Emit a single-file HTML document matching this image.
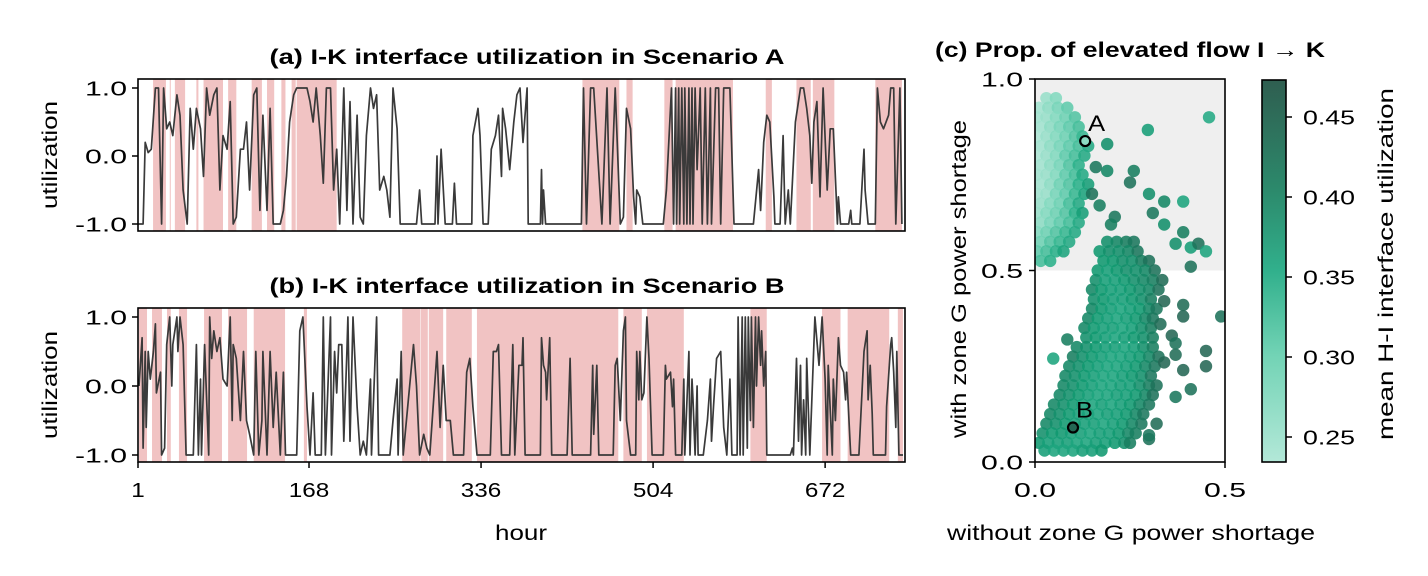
<!DOCTYPE html>
<html><head><meta charset="utf-8"><title>Utilization chart</title>
<style>
html,body{margin:0;padding:0;background:#fff;}
svg{display:block;font-family:"Liberation Sans",sans-serif;}
</style></head>
<body>
<svg id="chart" width="1428" height="576" viewBox="0 0 1428 576" xmlns="http://www.w3.org/2000/svg">
<defs>
<linearGradient id="cbgrad" x1="0" y1="1" x2="0" y2="0">
<stop offset="0" stop-color="#b3e8d8"/>
<stop offset="0.28" stop-color="#72d3b5"/>
<stop offset="0.50" stop-color="#31b08c"/>
<stop offset="0.71" stop-color="#2c8a6c"/>
<stop offset="1" stop-color="#2f5e50"/>
</linearGradient>
<clipPath id="clipA"><rect x="138" y="79" width="767" height="152"/></clipPath>
<clipPath id="clipB"><rect x="138" y="308" width="767" height="154"/></clipPath>
<clipPath id="clipC"><rect x="1035" y="79" width="190" height="383"/></clipPath>
</defs>
<g id="panelA"></g>
<g id="panelB"></g>
<g id="panelC"></g>
<g id="cbar"></g>
</svg>
<script>
const hoursA=[1,6,8,11,14,18,21,24,26,29,32,35,39,42,45,49,52,55,58,62,65,68,71,75,78,81,84,88,91,94,97,101,104,107,110,114,117,120,123,127,130,133,136,140,143,146,149,153,156,159,162,166,169,172,175,179,182,185,189,192,195,198,202,205,208,211,215,218,221,224,228,231,234,237,241,244,247,250,254,257,273,276,278,291,293,294,297,301,308,310,312,327,328,333,335,338,343,346,350,353,356,357,360,364,368,371,374,377,381,382,394,395,396,397,399,434,436,439,443,446,454,459,462,467,472,475,478,482,485,487,488,491,494,514,517,522,524,526,527,529,530,532,534,535,537,539,540,542,543,545,547,550,552,555,557,560,561,565,568,570,573,579,583,602,607,609,612,615,618,622,623,628,631,633,636,638,643,648,651,654,657,659,661,664,667,670,674,677,680,684,685,687,695,697,698,706,710,711,714,721,723,726,729,734,736,739,741,745,747];
const utilA=[-1,-1,0.2,0.05,0.1,1,1,-1,1,0.4,0.5,0.3,0.9,0.6,-0.5,-1,0.7,0.1,0.7,0.4,-0.3,1,0.6,0.9,1,-0.5,0.3,0.1,0.8,-1,-0.9,0.1,0.1,0.5,-0.5,0.9,1,-0.8,0.6,-0.8,0.7,-1,-1,-1,-0.8,-0.3,0.5,0.9,1,1,1,1,0.8,0.5,1,0.3,-0.4,1,1,-0.5,0.1,-1,1,-0.8,0.8,-1,0.6,-0.9,-1,0.3,1,0.7,0.9,-0.5,-0.3,-0.5,-0.9,1,0.4,-1,-1,-0.5,-1,-1,0,-1,0.1,-1,-1,-0.4,-1,-1,0.3,0.7,0.3,-1,-1,0.1,0.3,0.6,-0.3,0.7,0.4,-0.2,0.5,0.9,1,0.2,1,-1,-1,-0.2,-1,-0.5,-1,-1,1,-1,1,1,-1,1,-1,1,-1,-0.9,0.7,0.4,-0.6,-1,-0.5,-0.6,-1,-1,-0.5,1,-1,1,-1,1,-1,1,-1,1,-1,1,-1,1,-1,1,-0.2,1,-1,1,-1,1,-1,1,1,-1,1,1,-1,-1,-0.2,-0.8,0.2,0.6,0.5,-0.6,-1,-1,0.3,-1,-0.5,-1,0.5,1,1,0.7,0.3,-0.4,0.5,0.8,-0.6,1,-0.5,0.4,0.4,-1,-0.6,-1,-1,-0.8,-1,-1,0.1,-0.5,-1,-1,1,0.5,0.4,0.6,1,1,-1,1,-1];
const shadeStartA=[15.7,32,37,58,65,89,112,127,141,151,156,435,478,515,526,614,644,660,721];
const shadeEndA=[28.3,33,47,60,84,97,122,134,145,155,195,471,484,523,582,620,658,681,747];

const hoursB=[2,5,6,8,9,11,13,16,18,19,23,24,27,29,32,34,35,39,40,42,45,48,50,55,58,60,62,63,66,70,71,73,75,78,81,84,88,91,93,94,97,101,104,107,110,114,116,119,122,123,127,130,133,136,140,143,145,156,159,162,166,169,172,174,180,182,184,189,190,193,195,197,200,202,205,206,208,211,215,218,221,224,228,229,234,236,247,250,254,255,258,260,270,273,276,280,283,286,293,296,299,302,306,309,319,322,325,328,332,345,348,351,353,356,364,367,369,373,376,377,379,394,395,397,399,400,403,405,420,423,425,443,445,446,449,451,465,467,469,472,475,477,478,482,487,488,490,491,493,495,498,500,503,514,516,517,521,523,524,526,532,534,535,539,540,542,543,545,547,548,553,557,560,561,563,566,570,573,576,579,581,586,587,589,591,592,594,596,597,599,600,602,604,605,607,609,610,612,614,615,638,640,641,644,646,648,649,651,653,654,657,662,666,669,672,674,675,679,680,682,685,687,690,692,693,697,705,710,713,714,716,718,719,731,732,736,737,739,741,742,744,748];
const utilB=[0,0.7,-0.9,0.5,-0.6,0.5,0.1,0.5,0.9,-0.1,0.2,-1,-0.9,0.6,1,0,0.6,1,0.5,1,0.6,-1,-1,-1,0.6,-1,0.1,-1,0.6,-1,1,0.4,0.8,0.5,0.7,0.1,0,1,-0.5,0.6,0.4,-0.5,0.5,-0.5,-0.7,-1,0.5,-1,-0.5,0.5,-1,0.5,-0.6,0.2,-1,0.2,-1,-1,0.8,1,-0.3,-1,-0.1,-1,-1,1,-1,1,-1,0.5,-0.1,0.6,0.6,-0.8,0.5,1,-0.8,1,-0.3,-1,-0.8,-1,0.1,-1,1,-1,-1,-0.5,0.1,-1,0.5,-1,0.6,0,-1,-0.7,-0.9,-1,0.5,-0.6,0.3,-0.5,-0.5,-1,-1,0.2,0.4,-0.3,-1,-1,0.5,0.5,0.6,-1,-1,0.6,-1,0.3,0.3,0.7,-1,-1,0.7,0.3,0.2,-0.2,0.7,-1,-1,0.4,-1,-1,0.3,-0.7,0.3,-1,-1,0.3,0.4,-0.5,0.8,1,-0.5,-1,-1,0.5,-0.2,0.5,-0.2,-0.1,1,0.4,-1,-1,0.3,0.1,0.2,-0.3,0.1,-1,-1,0.1,-1,0.5,-1,0.1,-0.2,-1,0,-1,-1,-0.5,0.1,-0.8,-0.3,0.4,0.5,-0.6,-1,0.1,-1,-1,1,-1,1,-1,1,-0.9,1,-0.5,1,-0.6,1,0,1,0.3,0.8,0,0.5,-1,-1,-0.9,-1,0.4,-0.8,0.3,-1,-0.2,-1,0.4,-1,1,0.3,1,0.1,-1,0.3,-1,0.1,-0.5,0.7,0.3,0.2,-0.2,0.2,-1,-1,0.5,0.8,-0.2,0.3,-0.4,-1,-1,-0.3,0.6,0.7,0.2,-0.6,0.5,-1,-1];
const shadeStartB=[2,14.7,29.3,41,65.5,89,114,163,259,277,285,302,332,475,498,599,669,694,743];
const shadeEndB=[9.8,24.4,33,48.9,83,107.5,144.6,166,276.5,284,299,327,470,493,534,615,687,734.6,748];

const xTickValsTS=[1,168,336,504,672];
const yTickValsTS=[-1,0,1];
const yTickLabelsTS=["-1.0","0.0","1.0"];

// scatter points [without shortage, with shortage, mean H-I utilization]
const scatterPts=[
[0.03,0.95,0.26],[0.055,0.95,0.28],
[0.01,0.925,0.25],[0.035,0.925,0.27],[0.06,0.925,0.29],[0.085,0.925,0.31],
[0.005,0.9,0.25],[0.03,0.9,0.26],[0.055,0.9,0.28],[0.08,0.9,0.3],[0.105,0.9,0.32],
[0.015,0.875,0.25],[0.04,0.875,0.27],[0.065,0.875,0.29],[0.09,0.875,0.31],[0.115,0.875,0.33],
[0.005,0.85,0.24],[0.03,0.85,0.26],[0.055,0.85,0.28],[0.08,0.85,0.3],[0.105,0.85,0.32],[0.125,0.85,0.34],
[0.015,0.825,0.25],[0.04,0.825,0.27],[0.065,0.825,0.29],[0.09,0.825,0.31],[0.115,0.825,0.33],[0.14,0.825,0.36],
[0.005,0.8,0.24],[0.03,0.8,0.26],[0.055,0.8,0.28],[0.08,0.8,0.31],[0.105,0.8,0.33],[0.13,0.8,0.36],
[0.015,0.775,0.25],[0.04,0.775,0.27],[0.065,0.775,0.29],[0.09,0.775,0.32],[0.115,0.775,0.35],
[0.005,0.75,0.25],[0.03,0.75,0.26],[0.055,0.75,0.28],[0.08,0.75,0.31],[0.105,0.75,0.33],[0.125,0.75,0.36],
[0.015,0.725,0.25],[0.04,0.725,0.27],[0.065,0.725,0.3],[0.09,0.725,0.32],[0.115,0.725,0.35],[0.14,0.725,0.38],
[0.005,0.7,0.25],[0.03,0.7,0.26],[0.055,0.7,0.29],[0.08,0.7,0.31],[0.105,0.7,0.34],[0.13,0.7,0.37],
[0.015,0.675,0.26],[0.04,0.675,0.28],[0.065,0.675,0.3],[0.09,0.675,0.33],[0.115,0.675,0.36],
[0.005,0.65,0.26],[0.03,0.65,0.28],[0.055,0.65,0.3],[0.08,0.65,0.32],[0.105,0.65,0.35],[0.125,0.65,0.38],
[0.015,0.625,0.27],[0.04,0.625,0.29],[0.065,0.625,0.31],[0.09,0.625,0.33],[0.115,0.625,0.36],
[0.005,0.6,0.28],[0.03,0.6,0.3],[0.055,0.6,0.32],[0.08,0.6,0.34],[0.105,0.6,0.36],
[0.015,0.575,0.3],[0.04,0.575,0.32],[0.065,0.575,0.34],[0.09,0.575,0.36],
[0.005,0.55,0.31],[0.03,0.55,0.33],[0.055,0.55,0.35],[0.075,0.55,0.37],
[0.015,0.525,0.33],[0.04,0.525,0.35],
[0.19,0.575,0.4],[0.215,0.575,0.41],[0.24,0.575,0.42],[0.26,0.575,0.43],
[0.17,0.55,0.39],[0.195,0.55,0.4],[0.22,0.55,0.4],[0.245,0.55,0.41],[0.27,0.55,0.43],
[0.18,0.525,0.39],[0.205,0.525,0.39],[0.23,0.525,0.4],[0.255,0.525,0.4],[0.28,0.525,0.42],[0.3,0.525,0.44],
[0.165,0.5,0.39],[0.19,0.5,0.38],[0.215,0.5,0.39],[0.24,0.5,0.4],[0.265,0.5,0.4],[0.29,0.5,0.41],[0.315,0.5,0.44],
[0.16,0.475,0.4],[0.185,0.475,0.38],[0.21,0.475,0.38],[0.235,0.475,0.39],[0.26,0.475,0.4],[0.285,0.475,0.41],[0.31,0.475,0.42],[0.335,0.475,0.45],
[0.15,0.45,0.41],[0.175,0.45,0.39],[0.2,0.45,0.38],[0.225,0.45,0.38],[0.25,0.45,0.39],[0.275,0.45,0.4],[0.3,0.45,0.41],[0.325,0.45,0.44],
[0.155,0.425,0.4],[0.18,0.425,0.39],[0.205,0.425,0.38],[0.23,0.425,0.38],[0.255,0.425,0.39],[0.28,0.425,0.4],[0.305,0.425,0.42],
[0.15,0.4,0.41],[0.175,0.4,0.39],[0.2,0.4,0.38],[0.225,0.4,0.37],[0.25,0.4,0.38],[0.275,0.4,0.39],[0.3,0.4,0.41],[0.32,0.4,0.43],
[0.14,0.375,0.41],[0.165,0.375,0.39],[0.19,0.375,0.38],[0.215,0.375,0.37],[0.24,0.375,0.38],[0.265,0.375,0.39],[0.29,0.375,0.41],[0.31,0.375,0.43],
[0.13,0.35,0.41],[0.155,0.35,0.39],[0.18,0.35,0.38],[0.205,0.35,0.38],[0.23,0.35,0.37],[0.255,0.35,0.38],[0.28,0.35,0.4],[0.305,0.35,0.42],
[0.135,0.325,0.4],[0.16,0.325,0.39],[0.185,0.325,0.38],[0.21,0.325,0.37],[0.235,0.325,0.38],[0.26,0.325,0.39],[0.285,0.325,0.4],[0.31,0.325,0.42],
[0.11,0.3,0.41],[0.135,0.3,0.4],[0.16,0.3,0.39],[0.185,0.3,0.38],[0.21,0.3,0.38],[0.235,0.3,0.37],[0.26,0.3,0.38],[0.285,0.3,0.4],[0.31,0.3,0.42],
[0.1,0.275,0.42],[0.125,0.275,0.4],[0.15,0.275,0.39],[0.175,0.275,0.38],[0.2,0.275,0.37],[0.225,0.275,0.37],[0.25,0.275,0.38],[0.275,0.275,0.39],[0.3,0.275,0.41],[0.325,0.275,0.44],
[0.09,0.25,0.41],[0.115,0.25,0.4],[0.14,0.25,0.39],[0.165,0.25,0.38],[0.19,0.25,0.37],[0.215,0.25,0.37],[0.24,0.25,0.38],[0.265,0.25,0.39],[0.29,0.25,0.41],[0.315,0.25,0.43],
[0.08,0.225,0.41],[0.105,0.225,0.4],[0.13,0.225,0.39],[0.155,0.225,0.38],[0.18,0.225,0.37],[0.205,0.225,0.37],[0.23,0.225,0.38],[0.255,0.225,0.39],[0.28,0.225,0.4],[0.305,0.225,0.43],
[0.075,0.2,0.41],[0.1,0.2,0.4],[0.125,0.2,0.39],[0.15,0.2,0.38],[0.175,0.2,0.37],[0.2,0.2,0.37],[0.225,0.2,0.38],[0.25,0.2,0.38],[0.275,0.2,0.4],[0.3,0.2,0.42],[0.32,0.2,0.44],
[0.065,0.175,0.41],[0.09,0.175,0.4],[0.115,0.175,0.39],[0.14,0.175,0.38],[0.165,0.175,0.37],[0.19,0.175,0.37],[0.215,0.175,0.38],[0.24,0.175,0.38],[0.265,0.175,0.39],[0.29,0.175,0.41],[0.31,0.175,0.44],
[0.05,0.15,0.41],[0.075,0.15,0.4],[0.1,0.15,0.39],[0.125,0.15,0.38],[0.15,0.15,0.37],[0.175,0.15,0.38],[0.2,0.15,0.37],[0.225,0.15,0.38],[0.25,0.15,0.39],[0.275,0.15,0.41],[0.3,0.15,0.43],
[0.04,0.125,0.41],[0.065,0.125,0.4],[0.09,0.125,0.39],[0.115,0.125,0.38],[0.14,0.125,0.38],[0.165,0.125,0.37],[0.19,0.125,0.38],[0.215,0.125,0.38],[0.24,0.125,0.39],[0.265,0.125,0.41],[0.285,0.125,0.43],
[0.03,0.1,0.41],[0.055,0.1,0.4],[0.08,0.1,0.39],[0.105,0.1,0.38],[0.13,0.1,0.38],[0.155,0.1,0.38],[0.18,0.1,0.37],[0.205,0.1,0.38],[0.23,0.1,0.39],[0.255,0.1,0.41],[0.28,0.1,0.43],
[0.02,0.075,0.4],[0.045,0.075,0.39],[0.07,0.075,0.39],[0.095,0.075,0.38],[0.12,0.075,0.38],[0.145,0.075,0.37],[0.17,0.075,0.38],[0.195,0.075,0.38],[0.22,0.075,0.39],[0.245,0.075,0.41],[0.265,0.075,0.42],
[0.01,0.05,0.39],[0.035,0.05,0.38],[0.06,0.05,0.38],[0.085,0.05,0.38],[0.11,0.05,0.37],[0.135,0.05,0.37],[0.16,0.05,0.38],[0.185,0.05,0.38],[0.21,0.05,0.39],[0.235,0.05,0.4],[0.25,0.05,0.42],
[0.025,0.03,0.38],[0.05,0.03,0.37],[0.075,0.03,0.37],[0.1,0.03,0.37],[0.125,0.03,0.38],[0.15,0.03,0.38],[0.175,0.03,0.39],
[0.36,0.33,0.46],[0.37,0.28,0.45],[0.39,0.24,0.46],[0.34,0.42,0.46],[0.33,0.36,0.45],[0.34,0.26,0.46],[0.32,0.1,0.45],[0.3,0.06,0.44],
[0.458,0.9,0.36],[0.297,0.867,0.38],[0.19,0.83,0.4],[0.19,0.76,0.41],[0.26,0.76,0.42],[0.25,0.73,0.44],[0.3,0.7,0.4],[0.34,0.68,0.41],[0.31,0.65,0.43],[0.34,0.62,0.4],[0.39,0.68,0.37],[0.39,0.6,0.42],[0.37,0.57,0.4],[0.41,0.56,0.38],[0.43,0.57,0.44],[0.45,0.55,0.37],[0.41,0.51,0.44],[0.21,0.64,0.43],[0.2,0.62,0.42],[0.16,0.77,0.43],[0.15,0.7,0.44],[0.17,0.67,0.42],
[0.085,0.32,0.42],[0.048,0.27,0.37],[0.49,0.38,0.44],[0.45,0.29,0.46],[0.45,0.25,0.46],[0.41,0.19,0.44],[0.37,0.17,0.43],[0.3,0.07,0.43],[0.39,0.41,0.45],[0.39,0.38,0.46],[0.37,0.31,0.44]
];
const markerLabels=["A","B"];
const markerX=[0.132,0.1];
const markerY=[0.838,0.09];
const markerC=[0.27,0.46];
const scatterXTicks=[0,0.5];
const scatterYTicks=[0,0.5,1];
const cbarTicks=[0.25,0.3,0.35,0.4,0.45];

const NS="http://www.w3.org/2000/svg";
function mk(tag,attrs,parent,text){const e=document.createElementNS(NS,tag);for(const k in attrs)e.setAttribute(k,attrs[k]);if(text!==undefined)e.textContent=text;parent.appendChild(e);return e;}
function txt(attrs,parent,text,len){const a=Object.assign({'font-size':21},attrs);if(len){a.textLength=len;a.lengthAdjust='spacingAndGlyphs';}return mk('text',a,parent,text);}

const tsX=h=>138+(h-1)*(767/749);
function tsPanel(gid,top,bottom,clip,hours,vals,ss,se,title,showX){
  const g=document.getElementById(gid);
  const y0=top+9, y1=bottom-7;
  const tsY=v=>y1+(v+1)/2*(y0-y1);
  for(let i=0;i<ss.length;i++){
    const r=mk('rect',{x:tsX(ss[i]),y:top,width:Math.max(1,tsX(se[i])-tsX(ss[i])),height:bottom-top,fill:'#f1c3c3'},g);
    
    
  }
  let d='';
  for(let i=0;i<hours.length;i++){d+=(i?'L':'M')+tsX(hours[i]).toFixed(1)+' '+tsY(vals[i]).toFixed(1);}
  const p=mk('path',{d:d,fill:'none',stroke:'#3a3a3a','stroke-width':1.7,'stroke-linejoin':'round','clip-path':'url(#'+clip+')'},g);
  
  
  const fr=mk('rect',{x:138,y:top,width:767,height:bottom-top,fill:'none',stroke:'#000','stroke-width':1.6},g);
  
  
  for(let i=0;i<yTickValsTS.length;i++){
    const yy=tsY(yTickValsTS[i]);
    mk('line',{x1:132,x2:138,y1:yy,y2:yy,stroke:'#000','stroke-width':1.5},g);
    const lab=yTickLabelsTS[i];
    const t=txt({x:127,y:yy+7.5,'text-anchor':'end','font-size':20},g,lab,lab.length===4?52:42);
    
    
  }
  const yl=txt({transform:'translate(57,'+((top+bottom)/2)+') rotate(-90)','text-anchor':'middle'},g,'utilization',108);
  
  
  const tt=txt({x:527,y:top-15,'text-anchor':'middle','font-weight':'bold','font-size':21.5},g,title,515);
  
  
  if(showX){
    for(const v of xTickValsTS){
      mk('line',{x1:tsX(v),x2:tsX(v),y1:bottom,y2:bottom+6,stroke:'#000','stroke-width':1.5},g);
      const s=String(v);
      const t=txt({x:tsX(v),y:bottom+35,'text-anchor':'middle','font-size':20},g,s,s.length*13.5);
      
      
    }
    const xl=txt({x:521,y:bottom+78,'text-anchor':'middle'},g,'hour',52);
    
    
  }
}
tsPanel('panelA',79,231,'clipA',hoursA,utilA,shadeStartA,shadeEndA,'(a) I-K interface utilization in Scenario A',false);
tsPanel('panelB',308,462,'clipB',hoursB,utilB,shadeStartB,shadeEndB,'(b) I-K interface utilization in Scenario B',true);

const cmStops=[[0.234,[179,232,216]],[0.30,[110,210,180]],[0.35,[42,176,138]],[0.39,[16,152,112]],[0.42,[24,126,96]],[0.473,[40,95,80]]];
function cmap(v){
  if(v<=cmStops[0][0])return 'rgb('+cmStops[0][1]+')';
  for(let i=1;i<cmStops.length;i++){
    if(v<=cmStops[i][0]){const a=cmStops[i-1],b=cmStops[i];const t=(v-a[0])/(b[0]-a[0]);
      return 'rgb('+a[1].map((c,k)=>Math.round(c+(b[1][k]-c)*t)).join(',')+')';}
  }
  return 'rgb('+cmStops[cmStops.length-1][1]+')';
}
const sx=v=>1035+v*380;
const sy=v=>462-v*383;
(function(){
  const g=document.getElementById('panelC');
  const bg=mk('rect',{x:1035,y:79,width:190,height:sy(0.5)-79,fill:'#efefef'},g);
  
  
  const pts=mk('g',{'clip-path':'url(#clipC)'},g);
  
  
  for(const p of scatterPts){
    const c=mk('circle',{cx:sx(p[0]),cy:sy(p[1]),r:6.2,fill:cmap(p[2]),'fill-opacity':0.88},pts);
    
    
  }
  for(let i=0;i<markerLabels.length;i++){
    const c=mk('circle',{cx:sx(markerX[i]),cy:sy(markerY[i]),r:5,fill:cmap(markerC[i]),stroke:'#000','stroke-width':2.2},g);
    
    
    const t=txt({x:sx(markerX[i])+3,y:sy(markerY[i])-10,'font-size':22},g,markerLabels[i],17);
    
    
  }
  const fr=mk('rect',{x:1035,y:79,width:190,height:383,fill:'none',stroke:'#000','stroke-width':1.6},g);
  
  
  for(const v of scatterXTicks){
    mk('line',{x1:sx(v),x2:sx(v),y1:462,y2:468,stroke:'#000','stroke-width':1.5},g);
    const t=txt({x:sx(v),y:497,'text-anchor':'middle','font-size':20},g,v.toFixed(1),42);
    
    
  }
  for(const v of scatterYTicks){
    mk('line',{x1:1029,x2:1035,y1:sy(v),y2:sy(v),stroke:'#000','stroke-width':1.5},g);
    const t=txt({x:1023,y:sy(v)+7.5,'text-anchor':'end','font-size':20},g,v.toFixed(1),42);
    
    
  }
  const xl=txt({x:1131,y:540,'text-anchor':'middle'},g,'without zone G power shortage',368);
  
  
  const yl=txt({transform:'translate(966,279) rotate(-90)','text-anchor':'middle'},g,'with zone G power shortage',318);
  
  
  const tt=txt({x:1130,y:57,'text-anchor':'middle','font-weight':'bold','font-size':21.5},g,'(c) Prop. of elevated flow I \u2192 K',390);
  
  
})();
(function(){
  const g=document.getElementById('cbar');
  const cy=v=>437-(v-0.25)*1600;
  const r=mk('rect',{x:1262,y:80,width:24,height:382,fill:'url(#cbgrad)',stroke:'#000','stroke-width':1.6},g);
  
  
  for(const v of cbarTicks){
    mk('line',{x1:1286,x2:1292,y1:cy(v),y2:cy(v),stroke:'#000','stroke-width':1.5},g);
    const t=txt({x:1303,y:cy(v)+7.5,'font-size':20},g,v.toFixed(2),52);
    
    
  }
  const tl=txt({transform:'translate(1393,264) rotate(-90)','text-anchor':'middle'},g,'mean H-I interface utilization',352);
  
  
})();
</script>
</body></html>
